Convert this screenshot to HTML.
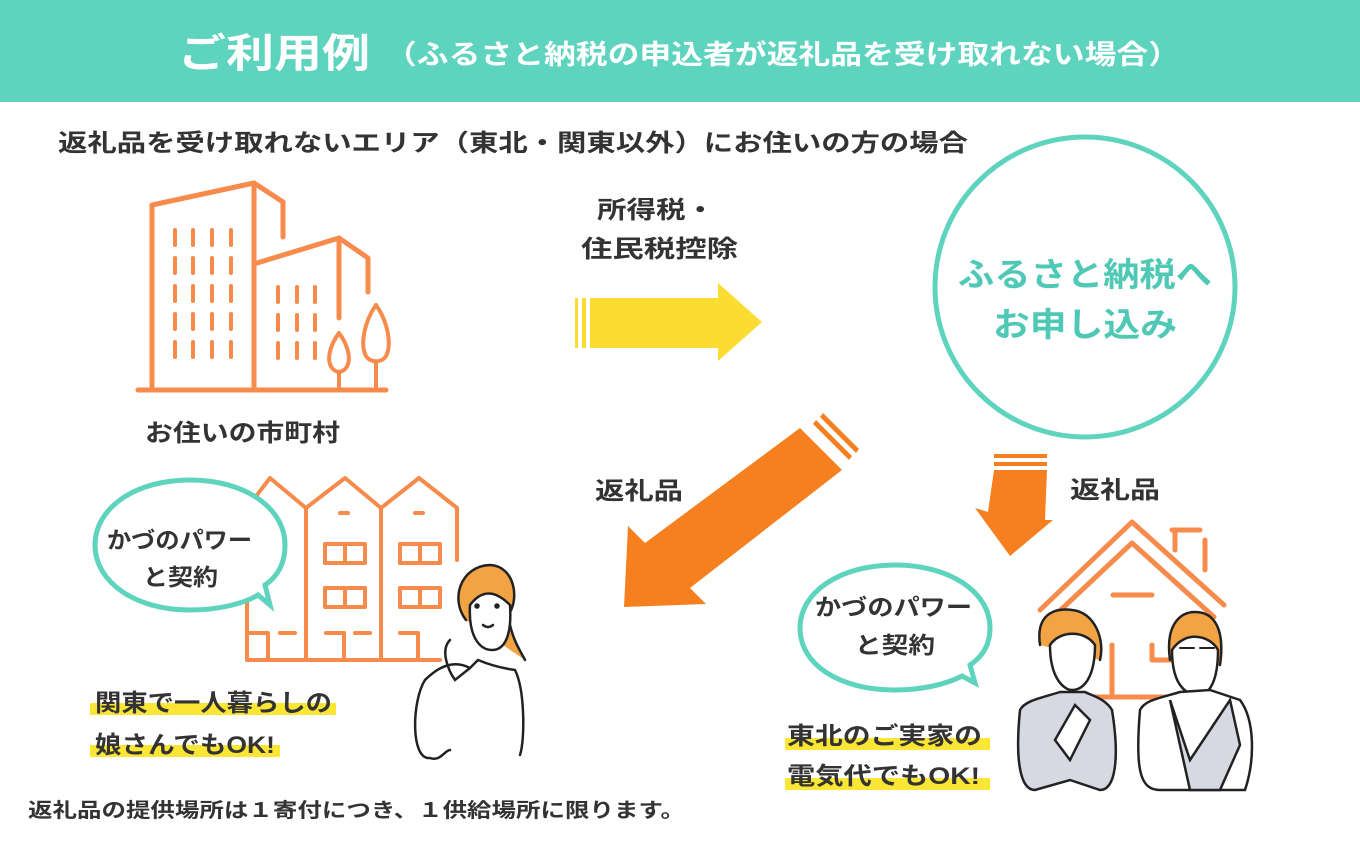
<!DOCTYPE html>
<html><head><meta charset="utf-8"><style>
html,body{margin:0;padding:0;background:#fff}
svg{display:block}
text{font-family:"Liberation Sans","Noto Sans CJK JP",sans-serif;font-weight:bold}
</style></head><body>
<svg width="1360" height="845" viewBox="0 0 1360 845" xmlns="http://www.w3.org/2000/svg">
<rect x="0" y="0" width="1360" height="102" fill="#5ed3be"/>
<text x="178" y="67" font-size="40" fill="#fff" textLength="192" lengthAdjust="spacingAndGlyphs">ご利用例</text>
<text x="385" y="64" font-size="27" fill="#fff" textLength="795" lengthAdjust="spacingAndGlyphs">（ふるさと納税の申込者が返礼品を受け取れない場合）</text>
<text x="58" y="151" font-size="24" fill="#333" textLength="910" lengthAdjust="spacingAndGlyphs">返礼品を受け取れないエリア（東北・関東以外）にお住いの方の場合</text>

<!-- city buildings -->
<g stroke="#f68b4b" stroke-width="5" fill="none" stroke-linecap="round" stroke-linejoin="round">
<path d="M152 390 V205 L254 183 V390"/>
<path d="M254 183 L283 202 V237"/>
<path d="M257 263 L339 238 L368 258 V292"/>
<path d="M339 238 V318"/>
<path d="M138 390 H386"/>
<g stroke-width="4">
<path d="M175 230v15M193 230v15M212 230v15M231 230v15M175 258v15M193 258v15M212 258v15M231 258v15M175 286v15M193 286v15M212 286v15M231 286v15M175 314v15M193 314v15M212 314v15M231 314v15M175 342v15M193 342v15M212 342v15M231 342v15"/>
<path d="M278 287v15M297 287v15M315 287v15M278 315v15M297 315v15M315 315v15M278 343v15M297 343v15M315 343v15"/>
<path d="M339 333 C330 345 326 360 332 368 C336 373 342 373 346 368 C352 360 348 345 339 333Z M339 373 V390"/>
<path d="M376 305 C364 322 360 345 366 356 C370 363 382 363 386 356 C392 345 388 322 376 305Z M376 362 V390"/>
</g>
</g>
<text x="145" y="441" font-size="24" fill="#333" textLength="195" lengthAdjust="spacingAndGlyphs">お住いの市町村</text>

<!-- yellow arrow -->
<text x="597" y="218" font-size="24" fill="#333" textLength="118" lengthAdjust="spacingAndGlyphs">所得税・</text>
<text x="581" y="257" font-size="24" fill="#333" textLength="157" lengthAdjust="spacingAndGlyphs">住民税控除</text>
<g fill="#fbdc33">
<rect x="575" y="298" width="3" height="50"/><rect x="582" y="298" width="4" height="50"/>
<polygon points="590,298 718,298 718,283 762,322 718,361 718,348 590,348"/>
</g>

<!-- circle -->
<circle cx="1085" cy="287" r="150" fill="#fff" stroke="#5ed3be" stroke-width="5"/>
<text x="958" y="286" font-size="33" fill="#4fc9b5" textLength="254" lengthAdjust="spacingAndGlyphs">ふるさと納税へ</text>
<text x="993" y="336" font-size="33" fill="#4fc9b5" textLength="184" lengthAdjust="spacingAndGlyphs">お申し込み</text>

<!-- diagonal orange arrow -->
<g fill="#f6801f">
<polygon points="800,428 842,470 690,588 706,604 624,607 628,526 645,543"/>
<polygon points="816,420 852,456 849,460 813,424"/>
<polygon points="823,413 859,449 856,453 820,417"/>
</g>
<text x="595" y="499" font-size="24" fill="#333" textLength="88" lengthAdjust="spacingAndGlyphs">返礼品</text>

<!-- down arrow -->
<g fill="#f6801f">
<rect x="994" y="454" width="53" height="4"/><rect x="994" y="462" width="53" height="4"/>
<polygon points="994,470 1047,470 1045,520 1053,520 1010,556 975,508 988,512"/>
</g>
<text x="1070" y="498" font-size="24" fill="#333" textLength="90" lengthAdjust="spacingAndGlyphs">返礼品</text>

<!-- townhouses -->
<g stroke="#f68b4b" stroke-width="4" fill="none" stroke-linejoin="round" stroke-linecap="round">
<path d="M247 660 V508 L270 478 L306 508 L345 478 L381 508 L419 478 L457 508 V560"/>
<path d="M306 508 V660 M381 508 V660 M247 660 H440"/>
<path d="M265 513h8M340 513h8M415 513h8"/>
<rect x="325" y="544" width="40" height="19"/><path d="M345 544v19"/>
<rect x="400" y="544" width="40" height="19"/><path d="M420 544v19"/>
<rect x="325" y="588" width="40" height="19"/><path d="M345 588v19"/>
<rect x="400" y="588" width="40" height="19"/><path d="M420 588v19"/>
<path d="M250 633h18v27M326 633h18v27M400 633h18v27M280 633h15M355 633h15"/>
</g>
<!-- woman -->
<g stroke="#222" stroke-width="2.5" fill="none" stroke-linecap="round">
<path d="M466 620 C450 600 460 566 490 565 C515 566 520 600 508 615 C512 640 520 650 525 660" fill="#f2a343" stroke="#222"/>
<path d="M470 605 C468 640 482 650 492 650 C505 650 512 635 510 605 C500 595 485 585 470 605Z" fill="#fff"/>
<path d="M425 680 C412 700 410 760 430 758 C440 762 445 750 450 750"/>
<path d="M425 680 C440 665 455 660 470 668 L478 660 C490 665 500 668 515 670 C525 690 525 740 520 755"/>
<path d="M450 640 C440 650 448 670 455 680 L470 668"/>
<circle cx="477" cy="606" r="1.5" fill="#222"/><circle cx="497" cy="606" r="1.5" fill="#222"/>
<path d="M483 625 q5 4 10 0"/>
</g>
<!-- bubble left -->
<path d="M190 480 C135 480 95 508 95 545 C95 582 135 610 190 610 C220 610 245 603 258 595 L270 605 L265 585 C280 575 285 560 285 545 C285 508 245 480 190 480Z" fill="#fff" stroke="#5ed3be" stroke-width="5"/>
<text x="107" y="548" font-size="23" fill="#333" textLength="145" lengthAdjust="spacingAndGlyphs">かづのパワー</text>
<text x="143" y="585" font-size="23" fill="#333" textLength="75" lengthAdjust="spacingAndGlyphs">と契約</text>
<rect x="90" y="703" width="246" height="12" fill="#fbe635"/>
<rect x="90" y="745" width="190" height="12" fill="#fbe635"/>
<text x="95" y="711" font-size="24" fill="#333" textLength="237" lengthAdjust="spacingAndGlyphs">関東で一人暮らしの</text>
<text x="95" y="753" font-size="24" fill="#333" textLength="180" lengthAdjust="spacingAndGlyphs">娘さんでもOK!</text>
<text x="28" y="817" font-size="20" fill="#333" textLength="657" lengthAdjust="spacingAndGlyphs">返礼品の提供場所は１寄付につき、１供給場所に限ります。</text>

<!-- house right -->
<g stroke="#f68b4b" stroke-width="5" fill="none" stroke-linecap="round" stroke-linejoin="round">
<path d="M1040 610 L1132 522 L1224 605"/>
<path d="M1050 620 L1132 543 L1214 617"/>
<path d="M1205 540 V570 M1172 530 H1200 M1175 530 V550"/>
<path d="M1113 595 H1152"/>
<path d="M1112 645 V697 M1152 645 V660 H1175"/>
<path d="M1070 680 V697 H1180"/>
</g>
<!-- couple -->
<g stroke="#222" stroke-width="2.5" stroke-linecap="round">
<path d="M1040 645 C1035 610 1060 608 1072 610 C1095 612 1105 640 1100 660" fill="#f2a343"/>
<path d="M1050 645 C1050 680 1065 690 1072 690 C1085 690 1095 675 1095 645 C1085 630 1060 630 1050 645Z" fill="#fff"/>
<path d="M1020 710 C1015 760 1020 790 1035 790 L1070 780 L1100 790 C1115 790 1120 760 1112 710 C1105 698 1090 695 1085 692 L1060 692 C1045 697 1025 700 1020 710Z" fill="#d6d8e2"/>
<path d="M1055 740 L1075 705 L1090 720 L1070 760 Z" fill="#fff"/>
<path d="M1170 660 C1165 625 1180 612 1195 612 C1215 612 1225 630 1220 665" fill="#f2a343"/>
<path d="M1172 650 C1172 690 1190 695 1198 695 C1210 695 1218 680 1218 650 C1210 635 1185 630 1172 650Z" fill="#fff"/>
<path d="M1140 710 C1135 770 1140 790 1160 790 H1245 C1255 760 1255 720 1240 700 L1210 690 L1180 692 C1160 698 1145 700 1140 710Z" fill="#fff"/>
<path d="M1170 700 L1190 760 L1230 700 L1240 745 L1220 790 H1190 Z" fill="#d6d8e2"/>
<path d="M1180 648 h14 M1200 648 h14" stroke-width="2"/>
</g>
<!-- bubble right -->
<path d="M895 565 C840 565 800 592 800 628 C800 665 840 690 895 690 C922 690 947 684 962 676 L975 683 L970 665 C985 655 990 642 990 628 C990 592 950 565 895 565Z" fill="#fff" stroke="#5ed3be" stroke-width="5"/>
<text x="815" y="615" font-size="23" fill="#333" textLength="157" lengthAdjust="spacingAndGlyphs">かづのパワー</text>
<text x="855" y="653" font-size="23" fill="#333" textLength="80" lengthAdjust="spacingAndGlyphs">と契約</text>
<rect x="785" y="738" width="205" height="12" fill="#fbe635"/>
<rect x="785" y="778" width="205" height="12" fill="#fbe635"/>
<text x="787" y="744" font-size="24" fill="#333" textLength="195" lengthAdjust="spacingAndGlyphs">東北のご実家の</text>
<text x="787" y="784" font-size="24" fill="#333" textLength="193" lengthAdjust="spacingAndGlyphs">電気代でもOK!</text>
</svg>
</body></html>
